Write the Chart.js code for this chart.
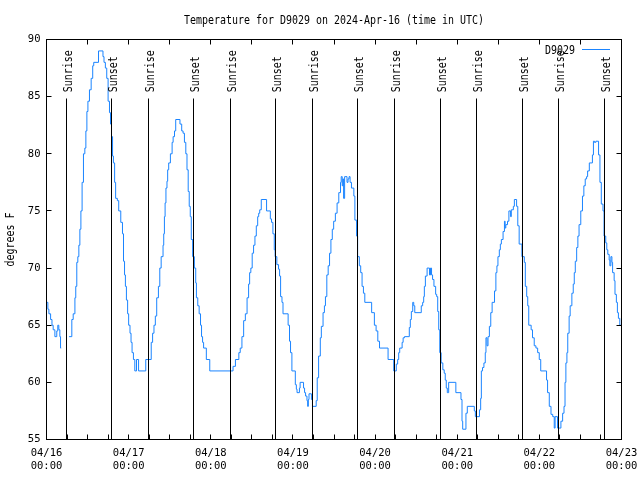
<!DOCTYPE html>
<html><head><meta charset="utf-8">
<script src="https://cdn.jsdelivr.net/npm/chart.js@4.4.1/dist/chart.umd.min.js"></script>
<style>html,body{margin:0;padding:0;background:#fff;}canvas{display:block;}</style>
</head><body>
<canvas id="c" width="640" height="480"></canvas>
<script>
const chartTitle = 'Temperature for D9029 on 2024-Apr-16 (time in UTC)';
const seriesName = 'D9029';
const yAxisTitle = 'degrees F';
const dayLabels = ['04/16','04/17','04/18','04/19','04/20','04/21','04/22','04/23'];
const timeLabel = '00:00';
const yMin = 55, yMax = 90, yStep = 5;
const sunLineTop = 84.84;
// hours since 04/16 00:00 UTC
const sunriseHours = [5.84, 29.80, 53.76, 77.72, 101.68, 125.64, 149.59];
const sunsetHours  = [18.99, 42.95, 66.91, 90.87, 115.12, 139.08, 163.03];
// readings per day: [hour of day, degrees F]
const day0416 = [[0,67],[0.4,66.4],[0.7,66],[1.2,65.5],[1.6,65],[1.95,64.6],[2.45,64],[3.0,64.5],[3.3,65],[3.6,64.6],[3.9,64],[4.1,63],[4.3,63],[4.35,null],[6.6,64],[7.4,65.5],[7.8,66],[8.3,67.4],[8.55,68.4],[8.85,70.5],[9.15,71],[9.45,72],[9.75,73.4],[10.05,75],[10.4,77.5],[10.8,80],[11.2,80.5],[11.5,82],[11.8,83.7],[12.1,84.6],[12.55,85.6],[13.05,86.6],[13.5,87.7],[13.8,88],[15.2,89],[16.5,88.5],[16.8,88],[17.2,87.5],[17.6,86.6],[18.0,84.6],[18.4,83.6],[18.7,82.6],[19.0,81.5],[19.3,79.8],[19.55,79.2],[19.9,77.5],[20.2,76.1],[20.7,75.9],[21.1,75],[21.7,74],[22.2,73],[22.5,70.6],[22.8,69.4],[23.05,68.4],[23.35,67.2],[23.7,66]];
const day0417 = [[0,65],[0.4,64.3],[0.7,63.5],[1.0,62.6],[1.4,62],[1.8,61],[2.3,62],[2.9,61],[5.0,62],[6.6,63.5],[7.0,64.3],[7.4,65],[7.8,65.8],[8.2,67.4],[8.7,68.4],[9.1,70],[9.5,71],[10.05,72],[10.25,73],[10.45,74.5],[10.65,75.7],[10.9,77],[11.2,77.6],[11.4,78.6],[11.7,79.2],[12.2,80],[12.7,81],[13.0,81.5],[13.4,82],[13.75,83],[15.0,82.6],[15.5,82],[15.9,81.8],[16.3,81],[16.7,80],[17.05,78.6],[17.4,76.7],[17.7,75.4],[18.0,74.5],[18.3,72.5],[18.7,71],[19.2,70],[19.6,68.7],[19.8,67.4],[20.2,66.7],[20.6,66],[21.0,65],[21.3,64],[21.6,63.5],[21.9,63],[22.7,62],[23.7,61]];
const day0418 = [[6.5,61.4],[7.2,62],[8.2,62.6],[8.6,63],[9.1,64],[9.6,65.4],[10.1,66],[10.6,67.4],[11.05,68.6],[11.35,69.6],[11.7,70],[12.1,71.3],[12.5,72],[12.9,72.8],[13.3,73.7],[13.7,74.5],[14.0,74.8],[14.3,75.1],[14.75,76],[16.3,75],[17.4,74.3],[17.75,74],[18.15,73],[18.55,71.6],[18.8,71],[19.3,70.3],[19.8,69.9],[20.1,69.3],[20.4,67.5],[20.8,67],[21.1,66],[22.6,65],[23.0,63.6],[23.3,62.6],[23.7,61]];
const day0419 = [[0.7,59.8],[1.0,59.4],[1.2,59.1],[1.9,59.5],[2.1,60],[3.1,59.5],[3.4,59.1],[3.7,58.8],[4.1,58.4],[4.3,57.9],[4.5,58.5],[4.7,59],[5.4,58.5],[5.7,57.9],[6.8,58.4],[7.1,60.4],[7.5,62.3],[8.0,63.9],[8.3,64.9],[8.8,66.1],[9.2,66.7],[9.5,67.5],[9.9,69.4],[10.3,70.2],[10.7,71.3],[11.1,72.5],[11.5,73.4],[11.9,74.1],[12.4,74.8],[12.9,75.7],[13.4,76.6],[13.9,77.5],[14.1,78],[14.4,77.2],[14.6,77.8],[14.8,76.1],[15.1,78],[15.8,77.5],[16.1,77.8],[16.4,78],[16.7,77.5],[17.1,77],[17.8,76.3],[18.1,74.2],[18.6,72.8],[18.9,71],[19.4,70.2],[19.8,69.6],[20.2,68.4],[20.6,67.8],[21.0,67],[23.0,66.1],[23.8,65]];
const day0420 = [[0.3,64.5],[0.8,63.6],[1.3,63],[3.8,62],[5.45,61],[6.2,61.6],[6.6,62],[6.9,62.6],[7.2,63],[7.9,63.5],[8.2,63.9],[8.6,64],[10.0,64.8],[10.3,65.5],[10.6,66.2],[11.0,67],[11.3,66.7],[11.6,66.1],[13.5,66.7],[13.9,67],[14.2,67.5],[14.4,68.4],[14.7,69.3],[15.2,70],[15.9,69.4],[16.2,70],[16.5,69.4],[16.8,69],[17.2,68.4],[17.7,67.7],[18.0,67.5],[18.3,66.2],[18.6,64.6],[18.9,62.6],[19.3,61.7],[19.8,61.1],[20.2,60.8],[20.5,60.2],[20.8,59.5],[21.1,59.1],[21.5,60],[23.6,59.1]];
const day0421 = [[1.1,58.5],[1.4,56.6],[1.6,55.9],[2.55,57.3],[2.95,57.9],[5.0,57.5],[5.3,57],[6.5,57.6],[6.85,58.6],[7.05,61],[7.4,61.3],[7.8,61.7],[8.2,62.6],[8.4,63.9],[8.7,63.2],[9.0,64],[9.4,64.9],[9.8,66.1],[10.2,67],[10.9,68],[11.3,69.6],[11.6,70.2],[11.9,71],[12.3,71.6],[12.6,72.1],[12.9,72.5],[13.4,73.2],[13.8,74.1],[14.0,73.5],[14.2,73.8],[14.7,74.1],[15.1,75],[15.6,74.5],[15.8,75.1],[16.4,75.4],[16.7,76],[17.35,75.4],[17.7,73.7],[18.1,72.1],[18.9,71],[19.6,70.5],[19.9,68.4],[20.3,67.5],[20.6,66.7],[20.9,65],[21.6,64.6],[22.0,63.9],[22.5,63.2],[23.0,63],[23.5,62.6],[23.97,62]];
const day0422 = [[0.4,61],[2.1,60.2],[2.4,59.1],[2.9,57.9],[3.4,57.2],[3.9,57],[4.35,56],[4.6,57],[5.3,56],[6.3,56.6],[6.8,57.3],[7.2,57.9],[7.5,60],[7.75,61.7],[8.05,62.6],[8.3,64.3],[8.7,65.8],[9.0,66.7],[9.5,67.8],[9.9,68.6],[10.2,69.6],[10.5,70.6],[10.9,71.8],[11.25,72.8],[11.6,73.8],[12.1,75],[12.6,76.3],[13.0,77.2],[13.4,77.8],[13.8,78],[14.1,78.5],[14.6,79.2],[15.5,79.9],[15.8,81.1],[16.1,81],[16.5,81.1],[17.3,79.9],[17.7,77.5],[18.1,75.6],[18.6,75],[18.9,72.8],[19.4,72.2],[19.7,71.6],[20.0,71.2],[20.4,70.7],[20.6,70.2],[20.9,71],[21.2,70.5],[21.4,69.6],[21.85,68.9],[22.1,67.7],[22.5,67],[22.8,66.1],[23.1,65.6],[23.5,65],[24,65]];
const days = [day0416, day0417, day0418, day0419, day0420, day0421, day0422];

const lineColor = '#1a84ff';
const SX = 0.83;
const FONT = '"DejaVu Sans Mono"';

const points = [];
days.forEach((d, i) => d.forEach(([h, t]) => points.push({x: i * 24 + h, y: t})));

function txt(ctx, s, x, y, align, rot) {
  ctx.save();
  ctx.translate(x, y);
  if (rot) ctx.rotate(rot);
  ctx.scale(SX, 1);
  ctx.font = '12px ' + FONT;
  ctx.textAlign = align;
  ctx.textBaseline = 'alphabetic';
  ctx.fillStyle = '#000';
  ctx.fillText(s, 0, 0);
  ctx.restore();
}
const snap = p => Math.round(p - 0.5) + 0.5;

const decor = {
  id: 'decor',
  afterDatasetsDraw(chart) {
    const {ctx, chartArea: a, scales: {x, y}} = chart;
    ctx.save();
    ctx.strokeStyle = '#000';
    ctx.lineWidth = 1;
    ctx.beginPath();
    // sunrise / sunset lines
    const yTop = snap(y.getPixelForValue(sunLineTop));
    sunriseHours.concat(sunsetHours).forEach(h => {
      const px = snap(x.getPixelForValue(h));
      ctx.moveTo(px, yTop); ctx.lineTo(px, a.bottom);
    });
    // x ticks
    x.ticks.forEach(t => {
      if (t.value <= 0 || t.value >= 168) return;
      const px = snap(x.getPixelForValue(t.value));
      ctx.moveTo(px, a.bottom); ctx.lineTo(px, a.bottom - 5);
      if (t.value % 12 === 0) { ctx.moveTo(px, a.top); ctx.lineTo(px, a.top + 5); }
    });
    // y ticks
    y.ticks.forEach(t => {
      if (t.value <= yMin || t.value >= yMax) return;
      const py = snap(y.getPixelForValue(t.value));
      ctx.moveTo(a.left, py); ctx.lineTo(a.left + 5, py);
      ctx.moveTo(a.right, py); ctx.lineTo(a.right - 5, py);
    });
    ctx.stroke();
    ctx.strokeRect(a.left, a.top, a.right - a.left, a.bottom - a.top);
    // labels of sun lines
    sunriseHours.forEach(h => txt(ctx, 'Sunrise', snap(x.getPixelForValue(h)) + 5, 92.3, 'left', -Math.PI / 2));
    sunsetHours.forEach(h => txt(ctx, 'Sunset', snap(x.getPixelForValue(h)) + 5, 92.3, 'left', -Math.PI / 2));
    // title
    txt(ctx, chartTitle, (a.left + a.right) / 2, 23.5, 'center');
    // y axis title
    txt(ctx, yAxisTitle, 14, (a.top + a.bottom) / 2, 'center', -Math.PI / 2);
    // legend
    txt(ctx, seriesName, 575, 54, 'right');
    ctx.strokeStyle = lineColor;
    ctx.beginPath(); ctx.moveTo(582, 49.5); ctx.lineTo(610, 49.5); ctx.stroke();
    ctx.restore();
  }
};

const tickFont = {family: 'DejaVu Sans Mono', size: 10.5, lineHeight: 1.25};

new Chart(document.getElementById('c'), {
  type: 'line',
  data: {datasets: [{
    label: seriesName, data: points, borderColor: lineColor, borderWidth: 1,
    pointRadius: 0, stepped: true, fill: false, spanGaps: false
  }]},
  options: {
    responsive: false, animation: false, devicePixelRatio: 1,
    layout: {padding: {left: 0.5, right: 18.5, top: 39.5, bottom: 0}},
    plugins: {legend: {display: false}, tooltip: {enabled: false}, title: {display: false}},
    scales: {
      x: {
        type: 'linear', min: 0, max: 168,
        ticks: {stepSize: 6, autoSkip: false, maxRotation: 0, minRotation: 0, padding: 7.5,
          color: '#000', font: tickFont,
          callback: v => (v % 24 === 0 ? [dayLabels[v / 24], timeLabel] : '')},
        grid: {display: false, drawTicks: false}, border: {display: false},
        afterFit: s => { s.height = 40.5; s.paddingLeft = 0; s.paddingRight = 0; }
      },
      y: {
        min: yMin, max: yMax,
        ticks: {stepSize: yStep, padding: 6, color: '#000', font: tickFont},
        grid: {display: false, drawTicks: false}, border: {display: false},
        afterFit: s => { s.width = 46; s.paddingTop = 0; s.paddingBottom = 0; }
      }
    }
  },
  plugins: [decor]
});
</script>
</body></html>
